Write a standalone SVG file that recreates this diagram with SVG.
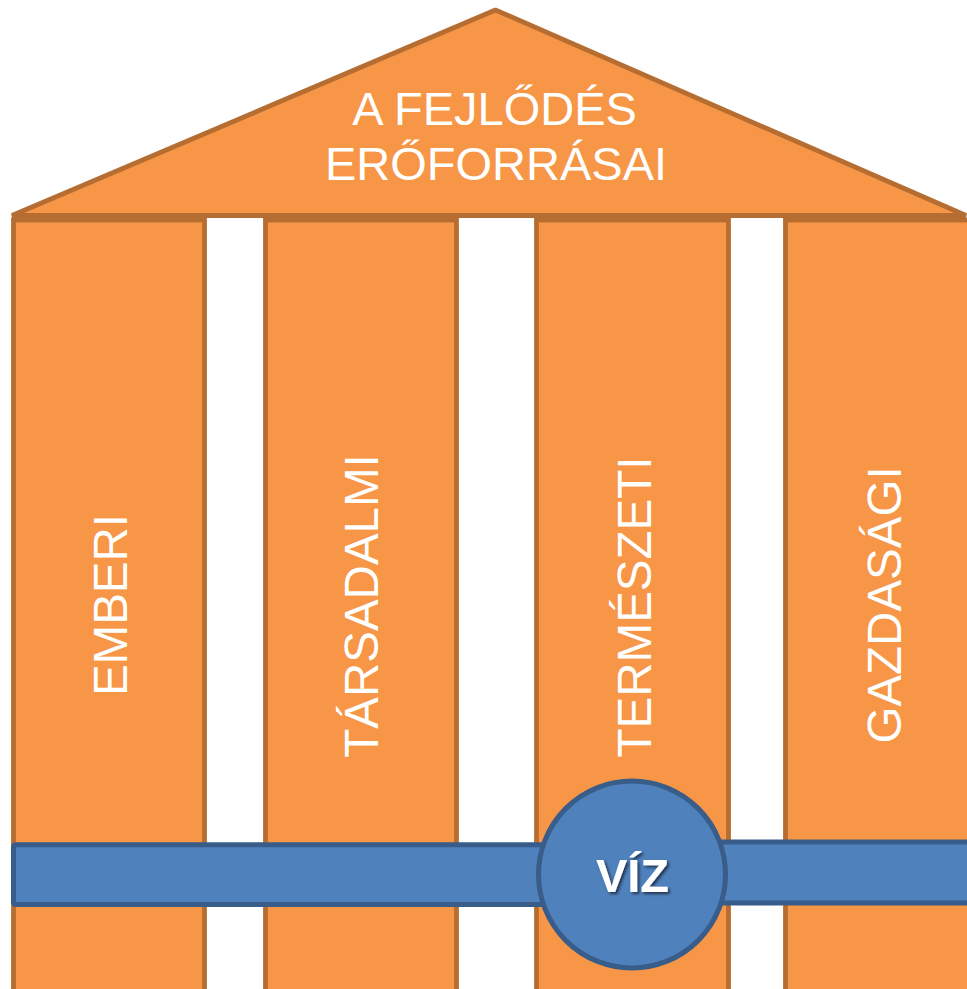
<svg xmlns="http://www.w3.org/2000/svg" width="967" height="989" viewBox="0 0 967 989">
<defs>
<style>
.org{fill:#F79646;stroke:#B66D31;stroke-width:4.8}
.blu{fill:#4F81BD;stroke:#385D8A;stroke-width:5}
.lbl{font-family:"Liberation Sans",Arial,sans-serif;font-size:47.5px;fill:#FFFFFF;text-anchor:middle}
.roof{font-family:"Liberation Sans",Arial,sans-serif;font-size:47px;fill:#FFFFFF;text-anchor:middle}
.viz{font-family:"Liberation Sans",Arial,sans-serif;font-size:47px;font-weight:bold;fill:#FFFFFF;text-anchor:middle}
</style>
<filter id="sh" x="-20%" y="-20%" width="140%" height="140%">
<feDropShadow dx="2" dy="2" stdDeviation="1.5" flood-color="#000000" flood-opacity="0.6"/>
</filter>
</defs>
<rect width="967" height="989" fill="#FFFFFF"/>
<g id="roof">
<polygon class="org" points="12,215.5 495.5,10 966,215.5" stroke-linejoin="bevel"/>
<text class="roof" x="494.5" y="125">A FEJLŐDÉS</text>
<text class="roof" x="496" y="180">ERŐFORRÁSAI</text>
</g>
<g id="col-emberi">
<rect class="org" x="13.5" y="220" width="191" height="780"/>
<text class="lbl" transform="translate(127,605) rotate(-90)">EMBERI</text>
</g>
<g id="col-tarsadalmi">
<rect class="org" x="265.5" y="220" width="191" height="780"/>
<text class="lbl" transform="translate(378.3,606) rotate(-90)">TÁRSADALMI</text>
</g>
<g id="col-termeszeti">
<rect class="org" x="536.5" y="220" width="192" height="780"/>
<text class="lbl" transform="translate(650.5,607) rotate(-90)">TERMÉSZETI</text>
</g>
<g id="col-gazdasagi">
<rect class="org" x="785.5" y="220" width="192" height="780"/>
<text class="lbl" transform="translate(900.5,605) rotate(-90)">GAZDASÁGI</text>
</g>
<g id="connectors">
<rect class="blu" x="13.5" y="844.8" width="560" height="59.7" rx="2"/>
<rect class="blu" x="690" y="842" width="290" height="61" rx="2"/>
</g>
<g id="viz">
<circle class="blu" cx="632" cy="874.5" r="93.5"/>
<text class="viz" x="632.5" y="892" filter="url(#sh)">VÍZ</text>
</g>
</svg>
